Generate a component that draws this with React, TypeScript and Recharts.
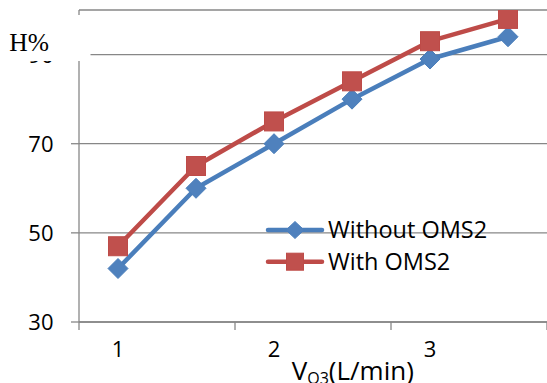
import React from 'react';
import { LineChart, Line, XAxis, YAxis, CartesianGrid } from 'recharts';

// ---- data ----
const flowRates = [1, 1.5, 2, 2.5, 3, 3.5];
const withoutOMS2 = [42, 60, 70, 80, 89, 94];
const withOMS2 = [47, 65, 75, 84, 93, 98];
const xTickMarks = [0.75, 1.75, 2.75, 3.75];
const xTickLabels = ['1', '2', '3'];
const yTicks = [30, 50, 70, 90];
const seriesNames = ['Without OMS2', 'With OMS2'];

const data = flowRates.map((v, i) => ({ v, a: withoutOMS2[i], b: withOMS2[i] }));

const BLUE_LINE = '#4A7EBB';
const BLUE_FILL = '#4F81BD';
const RED_LINE = '#BE4B48';
const RED_FILL = '#C0504D';
const GRID = '#878787';
const FONT = '"Open Sans", sans-serif';

const XTick = (props: any) => {
  const { x, y, index } = props;
  const label = xTickLabels[index];
  return (
    <g>
      <line x1={x} x2={x} y1={y} y2={y + 8} stroke={GRID} strokeWidth={1.3} />
      {label !== undefined && (
        <text x={x + 39} y={y + 35} textAnchor="middle" fontFamily={FONT} fontSize={22} fill="#000">
          {label}
        </text>
      )}
    </g>
  );
};

const YTick = (props: any) => {
  const { x, y, payload } = props;
  return (
    <g>
      <line x1={x - 8} x2={x} y1={y} y2={y} stroke={GRID} strokeWidth={1.3} />
      <text x={x - 25.5} y={y + 8} textAnchor="end" fontFamily={FONT} fontSize={22} fill="#000">
        {payload.value}
      </text>
    </g>
  );
};

const Diamond = (props: any) => {
  const { cx, cy, index } = props;
  if (cx == null || cy == null) return <g key={index} />;
  return (
    <polygon
      key={index}
      points={`${cx},${cy - 10} ${cx + 10},${cy} ${cx},${cy + 10} ${cx - 10},${cy}`}
      fill={BLUE_FILL}
      stroke={BLUE_LINE}
      strokeWidth={1}
    />
  );
};

const Square = (props: any) => {
  const { cx, cy, index } = props;
  if (cx == null || cy == null) return <g key={index} />;
  return (
    <rect key={index} x={cx - 9.5} y={cy - 9.5} width={19} height={19} fill={RED_FILL} stroke={RED_LINE} strokeWidth={1} />
  );
};

export default function App() {
  return (
    <div style={{ position: 'absolute', left: 0, top: 0, width: 547, height: 383, overflow: 'hidden', background: '#fff' }}>
      <LineChart width={547} height={383} data={data} margin={{ top: 10, right: 0, bottom: 0, left: 0 }}>
        <CartesianGrid horizontal vertical={false} stroke={GRID} strokeWidth={1.3} strokeDasharray="" />
        <XAxis
          dataKey="v"
          type="number"
          domain={[0.75, 3.75]}
          ticks={xTickMarks}
          height={61}
          tickSize={0}
          tickMargin={0}
          tickLine={false}
          interval={0}
          axisLine={{ stroke: GRID, strokeWidth: 1.3 }}
          tick={<XTick />}
          allowDataOverflow
        />
        <YAxis
          type="number"
          domain={[30, 100]}
          ticks={yTicks}
          width={79}
          tickSize={0}
          tickMargin={0}
          tickLine={false}
          interval={0}
          axisLine={{ stroke: GRID, strokeWidth: 1.3 }}
          tick={<YTick />}
          allowDataOverflow
        />
        <Line
          dataKey="a"
          name={seriesNames[0]}
          stroke={BLUE_LINE}
          strokeWidth={4.5}
          strokeLinejoin="round"
          dot={Diamond}
          activeDot={false}
          isAnimationActive={false}
        />
        <Line
          dataKey="b"
          name={seriesNames[1]}
          stroke={RED_LINE}
          strokeWidth={4.5}
          strokeLinejoin="round"
          dot={Square}
          activeDot={false}
          isAnimationActive={false}
        />
      </LineChart>
      <svg width={547} height={383} style={{ position: 'absolute', left: 0, top: 0, pointerEvents: 'none' }}>
        <rect x={0} y={15} width={90.5} height={46} fill="#fff" />
        <text x={9.3} y={51} fontFamily='"Liberation Serif", "Times New Roman", serif' fontSize={25.5} fill="#000">
          H%
        </text>
        <text x={291.7} y={380.3} fontFamily={FONT} fontSize={26} fill="#000">
          V
          <tspan fontSize={16} dy={3.5}>O3</tspan>
          <tspan dy={-3.5}>(L/min)</tspan>
        </text>
        <g transform="translate(266,217)">
          <line x1={2} x2={56} y1={13} y2={13} stroke={BLUE_LINE} strokeWidth={4.5} strokeLinecap="round" />
          <polygon points={`29,4.5 38,13 29,21.5 20,13`} fill={BLUE_FILL} stroke={BLUE_LINE} />
          <text x={62} y={21} fontFamily={FONT} fontSize={23.5} fill="#000">{seriesNames[0]}</text>
          <line x1={2} x2={56} y1={44.7} y2={44.7} stroke={RED_LINE} strokeWidth={4.5} strokeLinecap="round" />
          <rect x={20.5} y={36.2} width={17} height={17} fill={RED_FILL} stroke={RED_LINE} />
          <text x={62} y={52.7} fontFamily={FONT} fontSize={23.5} fill="#000">{seriesNames[1]}</text>
        </g>
      </svg>
    </div>
  );
}
